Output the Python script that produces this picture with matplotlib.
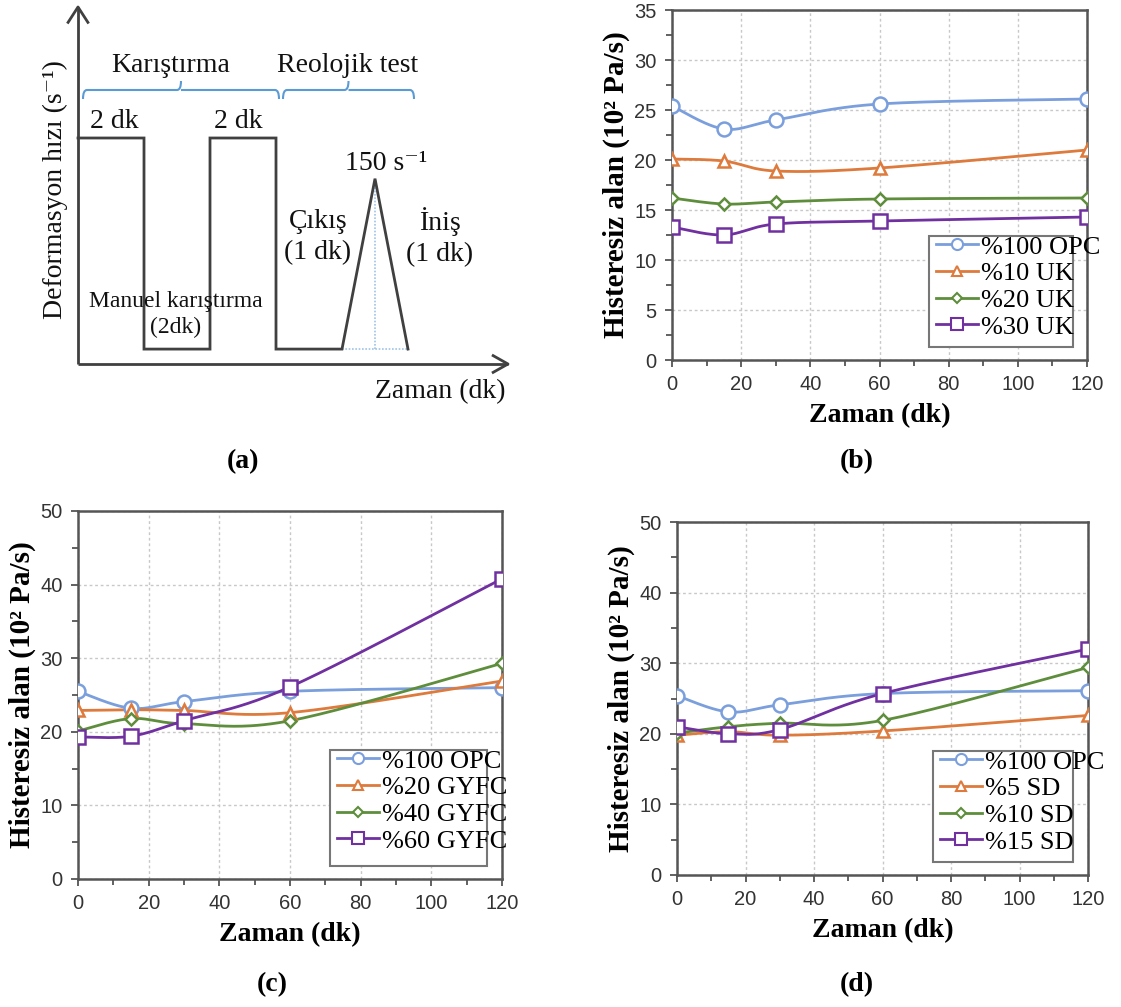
import numpy as np
import matplotlib
matplotlib.use("Agg")
import matplotlib.pyplot as plt
from matplotlib.patches import Rectangle, PathPatch
from matplotlib.path import Path
from matplotlib.lines import Line2D

# ---------------- data ----------------
time_min = [0, 15, 30, 60, 120]

# panel (b)
b_labels = ["%100 OPC", "%10 UK", "%20 UK", "%30 UK"]
b_opc = [25.4, 23.1, 24.0, 25.6, 26.1]
b_uk10 = [20.1, 19.9, 18.9, 19.2, 21.0]
b_uk20 = [16.2, 15.6, 15.8, 16.1, 16.2]
b_uk30 = [13.3, 12.5, 13.6, 13.9, 14.3]

# panel (c)
c_labels = ["%100 OPC", "%20 GYFC", "%40 GYFC", "%60 GYFC"]
c_opc = [25.5, 23.2, 24.1, 25.5, 26.0]
c_g20 = [22.9, 23.0, 22.9, 22.6, 26.9]
c_g40 = [20.1, 21.8, 21.1, 21.5, 29.3]
c_g60 = [19.3, 19.4, 21.5, 26.1, 40.8]

# panel (d)
d_labels = ["%100 OPC", "%5 SD", "%10 SD", "%15 SD"]
d_opc = [25.4, 23.1, 24.1, 25.7, 26.1]
d_sd5 = [19.8, 20.3, 19.8, 20.4, 22.6]
d_sd10 = [20.1, 21.0, 21.5, 21.9, 29.4]
d_sd15 = [21.0, 20.0, 20.6, 25.7, 32.0]

# panel (a) schematic: shear-rate profile (time in dk, relative rate)
sch_t = [0, 2, 2, 4, 4, 6, 6, 8, 9, 10]
sch_rate = [1.0, 1.0, 0.066, 0.066, 1.0, 1.0, 0.066, 0.066, 0.82, 0.066]

colors = ["#7A9FDC", "#DD7A3C", "#5E8E3C", "#7030A0"]
markers = ["o", "^", "D", "s"]
msizes = [10, 9, 6, 10]

SERIF = ["Liberation Serif", "DejaVu Serif"]
SANS = ["Liberation Sans", "DejaVu Sans"]

W, H = 1121, 1007
fig = plt.figure(figsize=(W / 100, H / 100), dpi=100)


def px_axes(left, top, right, bottom):
    return fig.add_axes([left / W, 1 - bottom / H, (right - left) / W, (bottom - top) / H])


def smooth(x, y, n=40):
    P = np.column_stack([x, y]).astype(float)
    Pext = np.vstack([P[0], P, P[-1]])
    xs, ys = [], []
    tt = np.linspace(0, 1, n)
    for i in range(len(P) - 1):
        p0 = Pext[i + 1]
        p3 = Pext[i + 2]
        c1 = p0 + (Pext[i + 2] - Pext[i]) / 6
        c2 = p3 - (Pext[i + 3] - Pext[i + 1]) / 6
        pts = ((1 - tt) ** 3)[:, None] * p0 + (3 * (1 - tt) ** 2 * tt)[:, None] * c1 \
            + (3 * (1 - tt) * tt ** 2)[:, None] * c2 + (tt ** 3)[:, None] * p3
        xs.extend(pts[:, 0])
        ys.extend(pts[:, 1])
    return np.array(xs), np.array(ys)


def data_panel(ax, series, labels, ymax, ystep, legend_box):
    for k, (vals, lab) in enumerate(zip(series, labels)):
        sx, sy = smooth(time_min, vals)
        ax.plot(sx, sy, color=colors[k], lw=2.0, zorder=3)
        ax.plot(time_min, vals, ls="none", marker=markers[k], ms=msizes[k],
                mfc="white", mec=colors[k], mew=1.8, zorder=4)
    ax.set_xlim(0, 120)
    ax.set_ylim(0, ymax)
    ax.set_xticks(np.arange(0, 121, 20))
    ax.set_xticks(np.arange(0, 121, 10), minor=True)
    ax.set_yticks(np.arange(0, ymax + 0.1, ystep))
    ax.set_yticks(np.arange(0, ymax + 0.1, ystep / 2), minor=True)
    ax.grid(True, which="major", ls=(0, (2, 2)), color="#c8c8c8", lw=1.0)
    for s in ax.spines.values():
        s.set_color("#555555")
        s.set_linewidth(1.8)
    ax.tick_params(which="both", direction="out", color="#555555", width=1.3)
    ax.tick_params(which="major", length=5, labelsize=14.5, labelcolor="#333333", pad=6)
    ax.tick_params(which="minor", length=4)
    for lab in ax.get_xticklabels() + ax.get_yticklabels():
        lab.set_fontfamily(SANS)
    ax.set_xlabel("Zaman (dk)", fontfamily=SERIF, fontweight="bold", fontsize=20, labelpad=6)
    ax.set_ylabel("Histeresiz alan (10² Pa/s)", fontfamily=SERIF,
                  fontweight="bold", fontsize=21, labelpad=3)
    # legend
    handles = [Line2D([], [], color=colors[k], lw=2, marker=markers[k], ms=msizes[k] * 0.8,
                      mfc="white", mec=colors[k], mew=1.5) for k in range(4)]
    x0, y0, x1, y1 = legend_box
    ax.add_patch(Rectangle((x0, y0), x1 - x0, y1 - y0, transform=ax.transAxes,
                           fill=True, fc="white", ec="#777777", lw=1.5, zorder=5))
    leg = ax.legend(handles, labels, loc="upper left", bbox_to_anchor=(x0 + 0.01, y1 + 0.01),
                    frameon=False, prop={"family": SERIF, "size": 19}, handlelength=1.6,
                    handletextpad=0.1, labelspacing=0.12, borderaxespad=0, borderpad=0.1)
    leg.set_zorder(6)


# ---------------- panel (b) ----------------
axb = px_axes(672, 10, 1087, 360)
data_panel(axb, [b_opc, b_uk10, b_uk20, b_uk30], b_labels, 35, 5,
           (0.619, 0.037, 0.966, 0.354))

# ---------------- panel (c) ----------------
axc = px_axes(78, 511, 502, 879)
data_panel(axc, [c_opc, c_g20, c_g40, c_g60], c_labels, 50, 10,
           (0.594, 0.035, 0.965, 0.35))

# ---------------- panel (d) ----------------
axd = px_axes(677, 522, 1088, 875)
data_panel(axd, [d_opc, d_sd5, d_sd10, d_sd15], d_labels, 50, 10,
           (0.623, 0.037, 0.963, 0.351))

# ---------------- panel (a) schematic ----------------
px_per_t = 33.0
px_per_r = 226.0
x_org, y_org = 78, 364
axa = px_axes(0, 0, 560, 420)
axa.set_xlim(-x_org / px_per_t, (560 - x_org) / px_per_t)
axa.set_ylim((y_org - 420) / px_per_r, y_org / px_per_r)
axa.axis("off")

axa.plot(sch_t, sch_rate, color="#404040", lw=2.0, solid_joinstyle="miter", zorder=3)
# guide lines
peak_i = int(np.argmax(np.array(sch_rate[6:]))) + 6
axa.plot([sch_t[peak_i], sch_t[peak_i]], [sch_rate[-1], sch_rate[peak_i]],
         color="#9EC3E6", lw=1.2, ls=(0, (1, 1)), zorder=2)
axa.plot([sch_t[peak_i - 1], sch_t[-1]], [sch_rate[-1], sch_rate[-1]],
         color="#9EC3E6", lw=1.2, ls=(0, (1, 1)), zorder=2)
# axes with open arrow heads
x_end = (508 - x_org) / px_per_t
y_end = (y_org - 7) / px_per_r
axa.plot([0, x_end], [0, 0], color="#404040", lw=2, solid_capstyle="butt")
axa.plot([0, 0], [0, y_end], color="#404040", lw=2, solid_capstyle="butt")
axa.plot([x_end - 0.45, x_end, x_end - 0.45], [0.037, 0, -0.037], color="#404040", lw=2)
axa.plot([-0.3, 0, 0.3], [y_end - 0.068, y_end, y_end - 0.068], color="#404040", lw=2)


def brace(ax, xa, xb, ybot, ytop, ytip, color="#5B9BD5"):
    xm = (xa + xb) / 2
    r = 0.12
    verts = [(xa, ybot), (xa, ytop), (xa + r, ytop),
             (xm - r, ytop), (xm, ytop), (xm, ytip),
             (xm, ytop), (xm + r, ytop),
             (xb - r, ytop), (xb, ytop), (xb, ybot)]
    codes = [Path.MOVETO, Path.CURVE3, Path.CURVE3,
             Path.LINETO, Path.CURVE3, Path.CURVE3,
             Path.MOVETO, Path.LINETO,
             Path.LINETO, Path.CURVE3, Path.CURVE3]
    ax.add_patch(PathPatch(Path(verts, codes), fc="none", ec=color, lw=1.5))


def tx(px):
    return (px - x_org) / px_per_t


def ry(py):
    return (y_org - py) / px_per_r


brace(axa, tx(83), tx(279), ry(99), ry(90), ry(81))
brace(axa, tx(283), tx(414), ry(99), ry(90), ry(81))

tkw = dict(fontfamily=SERIF, color="#111111", ha="center", va="center")
axa.text(tx(171), ry(66), "Karıştırma", fontsize=20, **tkw)
axa.text(tx(348), ry(66), "Reolojik test", fontsize=20, **tkw)
axa.text(tx(114), ry(122), "2 dk", fontsize=20, **tkw)
axa.text(tx(238), ry(122), "2 dk", fontsize=20, **tkw)
axa.text(tx(386), ry(163), "150 s⁻¹", fontsize=20, **tkw)
axa.text(tx(318), ry(237), "Çıkış\n(1 dk)", fontsize=20, linespacing=1.3, **tkw)
axa.text(tx(440), ry(237), "İniş\n(1 dk)", fontsize=20, linespacing=1.3, **tkw)
axa.text(tx(176), ry(302), "Manuel karıştırma", fontsize=17, **tkw)
axa.text(tx(176), ry(327), "(2dk)", fontsize=17, **tkw)
axa.text(tx(55), ry(190), "Deformasyon hızı (s⁻¹)", fontsize=20, rotation=90, **tkw)
axa.text(tx(440), ry(392), "Zaman (dk)", fontsize=20, **tkw)

# ---------------- panel labels ----------------
lab_ax = fig.add_axes([0, 0, 1, 1], zorder=-1)
lab_ax.set_xlim(0, W)
lab_ax.set_ylim(H, 0)
lab_ax.axis("off")
lkw = dict(fontfamily=SERIF, fontweight="bold", fontsize=20, ha="center", va="center")
lab_ax.text(243, 462, "(a)", **lkw)
lab_ax.text(857, 462, "(b)", **lkw)
lab_ax.text(272, 985, "(c)", **lkw)
lab_ax.text(857, 985, "(d)", **lkw)

fig.savefig("out.png", dpi=100, facecolor="white")
